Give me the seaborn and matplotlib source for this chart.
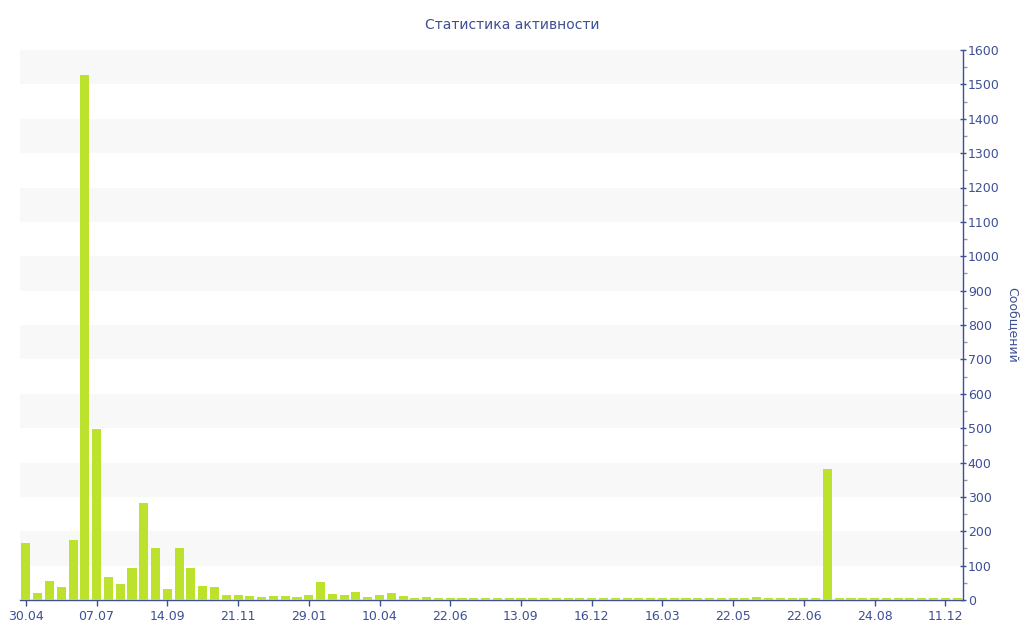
import numpy as np
import pandas as pd
import matplotlib
matplotlib.use("Agg")
import matplotlib.pyplot as plt
import seaborn as sns

# weekly message counts
counts = [167, 19, 54, 38, 176, 1527, 497, 66, 47, 92,
          282, 150, 31, 150, 92, 41, 37, 14, 16, 11,
          9, 13, 12, 9, 14, 52, 18, 15, 22, 9,
          15, 19, 11, 7, 8, 6, 6, 6, 6, 5,
          5, 5, 6, 6, 6, 6, 6, 6, 5, 6,
          6, 7, 5, 5, 5, 6, 6, 6, 5, 6,
          5, 7, 9, 5, 5, 5, 5, 5, 381, 5,
          5, 5, 5, 6, 5, 5, 5, 5, 5, 5]
tick_labels = ["30.04", "07.07", "14.09", "21.11", "29.01", "10.04", "22.06",
               "13.09", "16.12", "16.03", "22.05", "22.06", "24.08", "11.12"]
tick_step = 6

data = pd.DataFrame({"week": np.arange(len(counts)), "count": counts})

blue = "#3e4f94"
sns.set_style("white")
plt.rcParams["font.family"] = ["DejaVu Sans"]

fig = plt.figure(figsize=(10.24, 6.4), dpi=100)
ax = fig.add_axes([20 / 1024, 1 - 600 / 640, 943 / 1024, 550 / 640])

# alternating horizontal bands
for lo in range(100, 1600, 200):
    ax.axhspan(lo, lo + 100, color="#f8f8f8", zorder=0, lw=0)

sns.barplot(data=data, x="week", y="count", color="#bde22e", saturation=1,
            width=0.77, linewidth=0, ax=ax, zorder=2)

ax.set_xlim(-0.5, len(counts) - 0.5)
ax.set_ylim(0, 1600)
ax.set_xticks(np.arange(0, len(counts), tick_step))
ax.set_xticklabels(tick_labels)
ax.set_xlabel("")

ax.yaxis.tick_right()
ax.yaxis.set_label_position("right")
ax.set_yticks(np.arange(0, 1601, 100))
ax.set_yticks(np.arange(50, 1600, 100), minor=True)
ax.set_ylabel("Сообщений", rotation=270, labelpad=14, color=blue, fontsize=9)

for s in ["top", "left"]:
    ax.spines[s].set_visible(False)
for s in ["bottom", "right"]:
    ax.spines[s].set_color(blue)
    ax.spines[s].set_linewidth(1)
    ax.spines[s].set_zorder(1)

ax.tick_params(axis="x", colors=blue, labelsize=9, length=4, width=1, direction="out", bottom=True)
ax.tick_params(axis="y", which="major", colors=blue, labelsize=9, length=5, width=1,
               direction="inout", right=True, left=False, pad=1)
ax.tick_params(axis="y", which="minor", colors="#999999", length=3, width=1,
               direction="out", right=True, left=False)
for lbl in ax.get_yticklabels():
    lbl.set_color(blue)

fig.suptitle("Статистика активности", y=1 - 25 / 640, color=blue, fontsize=10, va="center")

fig.savefig("out.png", dpi=100)
